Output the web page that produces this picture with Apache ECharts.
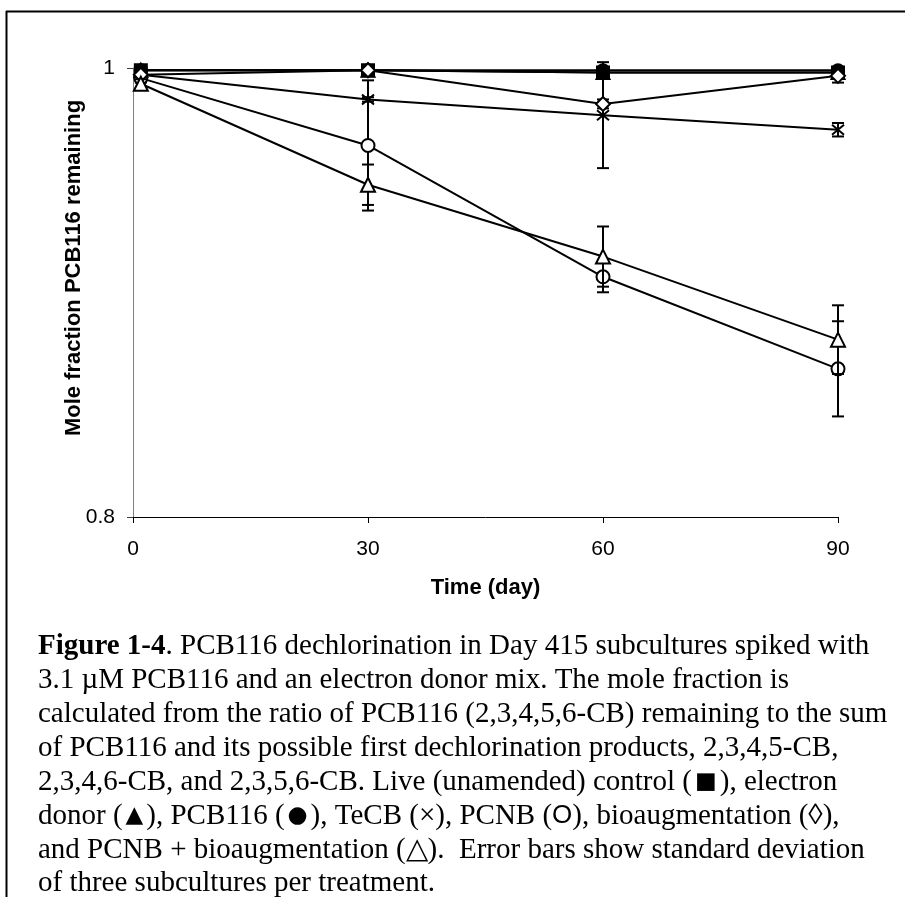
<!DOCTYPE html>
<html>
<head>
<meta charset="utf-8">
<script src="https://cdn.jsdelivr.net/npm/echarts@6/dist/echarts.min.js"></script>
<style>
  html, body { margin: 0; padding: 0; background: #fff; }
  #chart { width: 905px; height: 897px; }
</style>
</head>
<body>
<div id="chart"></div>
<script>
// Sampling days
const days = [1, 30, 60, 90];

// Mole fraction of PCB116 remaining per treatment (mean of three subcultures)
const control      = [0.999, 0.999, 0.998, 0.998];
const donor        = [0.999, 0.999, 0.998, 0.998];
const pcb116       = [0.999, 0.999, 0.999, 0.999];
const tecb         = [0.997, 0.986, 0.979, 0.9725];
const pcnb         = [0.9955, 0.9655, 0.907, 0.866];
const bioaug       = [0.997, 0.999, 0.984, 0.9965];
const pcnbBioaug   = [0.993, 0.948, 0.916, 0.879];

// Standard deviations
const controlSd    = [0.002, 0.001, 0.001, 0.001];
const donorSd      = [0.002, 0.001, 0.002, 0.001];
const pcb116Sd     = [0.002, 0.001, 0.001, 0.001];
const tecbSd       = [0.001, 0.001, 0.0236, 0.003];
const pcnbSd       = [0.002, 0.029, 0.0069, 0.0212];
const bioaugSd     = [0.001, 0.001, 0.002, 0.003];
const pcnbBioaugSd = [0.002, 0.009, 0.0134, 0.0153];

// Axis ticks
const xTicks = [0, 30, 60, 90];
const yTicks = [0.8, 1];

const ink = '#000';
const sans = '"Liberation Sans", Arial, sans-serif';
const serif = '"Liberation Serif", "Times New Roman", serif';
const asterisk = 'path://M0,0L10,10M10,0L0,10M5,-1L5,11';

const treatments = [
  { name: 'Live control', y: control, sd: controlSd, symbol: 'rect', filled: true, size: 12 },
  { name: 'Electron donor', y: donor, sd: donorSd, symbol: 'triangle', filled: true, size: 13 },
  { name: 'PCB116', y: pcb116, sd: pcb116Sd, symbol: 'circle', filled: true, size: 12 },
  { name: 'TeCB', y: tecb, sd: tecbSd, symbol: asterisk, filled: false, size: 12, stroke: true },
  { name: 'PCNB', y: pcnb, sd: pcnbSd, symbol: 'circle', filled: false, size: 13 },
  { name: 'Bioaugmentation', y: bioaug, sd: bioaugSd, symbol: 'diamond', filled: false, size: 14 },
  { name: 'PCNB + bioaugmentation', y: pcnbBioaug, sd: pcnbBioaugSd, symbol: 'triangle', filled: false, size: 14 }
];

const series = [];
treatments.forEach(function (t, k) {
  // error bars with caps, positioned through the axis scales
  series.push({
    name: t.name + ' sd',
    type: 'custom',
    z: 2 + k * 2,
    silent: true,
    data: days.map(function (d, i) { return [d, t.y[i] - t.sd[i], t.y[i] + t.sd[i]]; }),
    renderItem: function (params, api) {
      const lo = api.coord([api.value(0), api.value(1)]);
      const hi = api.coord([api.value(0), api.value(2)]);
      const w = 6;
      const st = { stroke: ink, lineWidth: 2 };
      return {
        type: 'group',
        children: [
          { type: 'line', shape: { x1: lo[0], y1: lo[1], x2: hi[0], y2: hi[1] }, style: st },
          { type: 'line', shape: { x1: lo[0] - w, y1: lo[1], x2: lo[0] + w, y2: lo[1] }, style: st },
          { type: 'line', shape: { x1: hi[0] - w, y1: hi[1], x2: hi[0] + w, y2: hi[1] }, style: st }
        ]
      };
    }
  });
  series.push({
    name: t.name,
    type: 'line',
    z: 3 + k * 2,
    data: days.map(function (d, i) { return [d, t.y[i]]; }),
    symbol: t.symbol,
    symbolSize: t.size,
    showAllSymbol: true,
    lineStyle: { color: ink, width: 2 },
    itemStyle: {
      color: t.filled ? ink : (t.stroke ? 'none' : '#fff'),
      borderColor: ink,
      borderWidth: 2,
      opacity: 1
    },
    emphasis: { disabled: true },
    animation: false
  });
});

const capSize = 29;
const captionLines = [
  '{b|Figure 1-4}. PCB116 dechlorination in Day 415 subcultures spiked with',
  '3.1 µM PCB116 and an electron donor mix. The mole fraction is',
  'calculated from the ratio of PCB116 (2,3,4,5,6-CB) remaining to the sum',
  'of PCB116 and its possible first dechlorination products, 2,3,4,5-CB,',
  '2,3,4,6-CB, and 2,3,5,6-CB. Live (unamended) control ({g|■}), electron',
  'donor ({g|▲}), PCB116 ({g|●}), TeCB (×), PCNB ({s|O}), bioaugmentation (◊),',
  'and PCNB + bioaugmentation (△).  Error bars show standard deviation',
  'of three subcultures per treatment.'
];

const graphics = [
  { type: 'line', shape: { x1: 6, y1: 11.5, x2: 905, y2: 11.5 }, style: { stroke: ink, lineWidth: 2 } },
  { type: 'line', shape: { x1: 6.5, y1: 11, x2: 6.5, y2: 897 }, style: { stroke: ink, lineWidth: 2 } },
  // vertical axis title
  {
    type: 'text',
    x: 74,
    y: 268,
    rotation: Math.PI / 2,
    style: {
      text: 'Mole fraction PCB116 remaining',
      fill: ink,
      font: 'bold 22px ' + sans,
      align: 'center',
      verticalAlign: 'middle'
    }
  }
];
captionLines.forEach(function (line, i) {
  graphics.push({
    type: 'text',
    left: 38,
    top: 632 + i * 33.9,
    style: {
      text: line,
      fill: ink,
      font: capSize + 'px ' + serif,
      rich: {
        b: { fontWeight: 'bold', fontSize: capSize, fontFamily: serif, fill: ink },
        s: { fontSize: capSize - 3, fontFamily: sans, fill: ink },
        g: { fontSize: 23, fontFamily: '"DejaVu Sans", sans-serif', fill: ink, padding: [0, 3, 0, 3] }
      }
    }
  });
});

const chart = echarts.init(document.getElementById('chart'), null, { renderer: 'canvas' });
chart.setOption({
  animation: false,
  backgroundColor: '#fff',
  grid: { left: 133, right: 67, top: 68, bottom: 380, containLabel: false },
  xAxis: {
    type: 'value',
    min: xTicks[0],
    max: xTicks[xTicks.length - 1],
    interval: xTicks[1] - xTicks[0],
    name: 'Time (day)',
    nameLocation: 'middle',
    nameGap: 60,
    nameTextStyle: { fontFamily: sans, fontWeight: 'bold', fontSize: 22, color: ink },
    axisLine: { lineStyle: { color: ink, width: 1 } },
    axisTick: { show: true, length: 6, lineStyle: { color: ink } },
    axisLabel: { fontFamily: sans, fontSize: 21, color: ink, margin: 22 },
    splitLine: { show: false }
  },
  yAxis: {
    type: 'value',
    min: yTicks[0],
    max: yTicks[yTicks.length - 1],
    interval: 0.2,
    axisLine: { show: true, lineStyle: { color: '#808080', width: 1 } },
    axisTick: { show: true, length: 6, lineStyle: { color: '#404040' } },
    axisLabel: {
      fontFamily: sans, fontSize: 21, color: ink, margin: 18,
      formatter: function (v) { return v === 1 ? '1' : String(v); }
    },
    splitLine: { show: false }
  },
  graphic: graphics,
  series: series
});
</script>
</body>
</html>
